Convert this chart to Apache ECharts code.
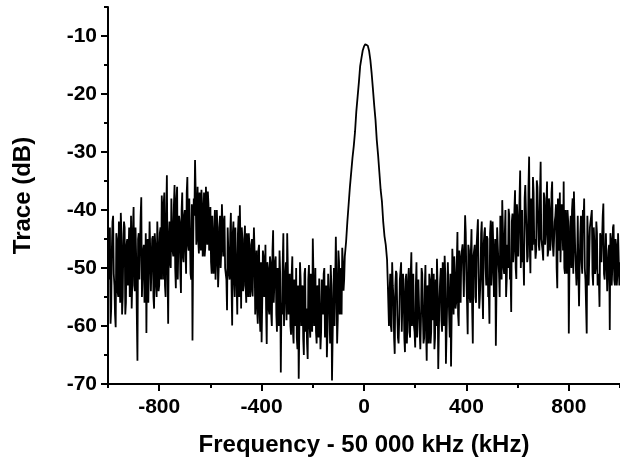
<!DOCTYPE html>
<html>
<head>
<meta charset="utf-8">
<script src="https://cdn.jsdelivr.net/npm/echarts@6/dist/echarts.min.js"></script>
<style>
html,body{margin:0;padding:0;background:#fff;}
#chart{width:620px;height:464px;}
</style>
</head>
<body>
<div id="chart"></div>
<script>
// Frequency grid (kHz offset from 50 000 kHz) of the main samples
const freqStart = -1000;
const freqStep = 5;

// Trace values (dB), one value per 5 kHz from -1000 kHz to 1000 kHz
const traceDb = [
  // -1000 .. -955
  -44, -52, -59.6, -47, -41, -53, -60.2, -45, -55, -42,
  // -950 .. -905
  -40.5, -58, -46, -43, -56, -45, -53, -55, -41, -52,
  // -900 .. -855
  -39.5, -54, -48, -66, -44, -52, -37.8, -55, -46, -53,
  // -850 .. -805
  -61.2, -45, -56, -47, -54, -44.5, -57, -46, -55, -45.5,
  // -800 .. -755
  -53, -43, -37.5, -52, -37, -55, -34, -59.6, -42, -50,
  // -750 .. -705
  -38, -48, -35.7, -53.5, -36, -46, -42, -54.3, -37, -49,
  // -700 .. -655
  -40, -51, -34.3, -47, -44, -52, -62.5, -38, -31.4, -46,
  // -650 .. -605
  -36, -47.5, -39, -36.5, -48, -37, -46.5, -40, -36.8, -47,
  // -600 .. -555
  -39.5, -51, -41, -44, -52, -40, -53.3, -43, -50, -39,
  // -550 .. -505
  -48, -41, -51, -57.3, -43, -52, -40.5, -59.9, -42, -55,
  // -500 .. -455
  -43, -58, -41, -39.2, -57, -45, -53, -42.7, -56, -47,
  // -450 .. -405
  -44, -55, -46, -54.9, -43, -58, -47, -59.6, -46, -61,
  // -400 .. -355
  -62.8, -47, -55, -46, -63.1, -50, -58, -49, -60, -43.5,
  // -350 .. -305
  -56, -48, -61, -52, -47, -68, -58, -44, -60, -49,
  // -300 .. -255
  -44, -58, -51, -61.5, -48, -63, -52, -50, -64, -69.1,
  // -250 .. -205
  -49, -60, -53, -65, -50, -57, -65.7, -49.5, -62, -51,
  // -200 .. -155
  -44.9, -60, -50, -63, -55, -51.8, -64, -52, -58, -50,
  // -150 .. -105
  -62, -65.4, -51, -57, -49.5, -69.4, -55, -60, -44.6, -63,
  // -100 .. -55
  -47, -58, -50, -46.5, -53.9, -48, -45.5, -42, -39, -36,
  // -50 .. -5
  -33.5, -31, -29, -26.5, -23, -20.5, -18, -15.2, -13.8, -12.5,
  // 0 .. 45
  -11.8, -11.4, -11.3, -11.7, -12.6, -14.2, -16.5, -19.2, -22, -24.5,
  // 50 .. 95
  -28, -30.5, -33.5, -36.5, -38.5, -42, -44.5, -46, -48.5, -52,
  // 100 .. 145
  -54, -60, -49, -55, -64.8, -50.5, -58, -63, -52, -49,
  // 150 .. 195
  -61, -54, -64.5, -51, -59, -50, -62, -47.3, -56, -60,
  // 200 .. 245
  -63.7, -49, -57, -52, -64, -50, -58, -62, -49.5, -66,
  // 250 .. 295
  -55, -51, -63, -50, -59, -64, -52, -48.4, -67.4, -55,
  // 300 .. 345
  -50, -61, -53, -47.9, -66.5, -56, -49, -62, -67, -46.7,
  // 350 .. 395
  -58, -51, -56, -43.8, -60, -52, -48, -45.9, -55, -40.9,
  // 400 .. 445
  -52, -61.4, -47, -56, -43.3, -63, -48, -55, -46, -41.6,
  // 450 .. 495
  -57, -52, -42, -58.8, -44, -50, -44.5, -55, -59.6, -41.8,
  // 500 .. 545
  -50, -46, -55, -63.4, -43, -49, -55, -41, -38.3, -50,
  // 550 .. 595
  -44, -55, -46, -39.8, -52, -57.6, -40.6, -47, -36.6, -51.9,
  // 600 .. 645
  -42, -48, -33.2, -45, -49, -53, -35.7, -44, -48, -30.8,
  // 650 .. 695
  -50.9, -38, -34.3, -46, -48.4, -34.9, -41, -47, -31.7, -45,
  // 700 .. 745
  -48.7, -38, -44, -35.1, -47, -40, -45, -35.1, -48, -42,
  // 750 .. 795
  -39, -53.5, -44, -37, -49, -42, -35.1, -51, -45, -40,
  // 800 .. 845
  -61.3, -43, -50, -38, -36.8, -47, -53, -41, -56.6, -44,
  // 850 .. 895
  -49, -40, -38, -52, -61.3, -45, -48, -42, -40, -53,
  // 900 .. 945
  -46, -50, -44, -51, -56.7, -45, -49, -38.9, -52, -44,
  // 950 .. 1000
  -54, -47, -60.7, -45, -50, -42.5, -53, -46, -51, -44, -49
];

// Extra noise samples (dB) half-way between main samples, left noise floor: -997.5 .. -77.5 kHz
const midLeftStart = -997.5;
const midLeftDb = [
  -52, -43, -57, -42, -51, -58, -44, -54, -42, -56,
  -44, -55, -42, -58, -46, -53, -43, -52, -57, -43,
  -53, -43, -58, -45, -52, -41, -55, -47, -56, -44,
  -47, -56, -42, -54, -45, -55, -44, -53, -42, -54,
  -44, -52, -41, -39, -53, -41, -50, -45, -49, -38,
  -47, -39, -50, -38, -52, -41, -51, -40, -48, -41,
  -47, -37, -46, -38, -51, -39, -47, -41, -37, -44,
  -45, -37, -47, -39, -45, -48, -36, -46, -39, -45,
  -49, -41, -51, -40, -49, -43, -50, -41, -47, -43,
  -42, -50, -52, -43, -51, -44, -53, -44, -52, -43,
  -53, -44, -55, -46, -43, -54, -45, -53, -44, -55,
  -46, -54, -45, -55, -47, -52, -57, -47, -58, -49,
  -56, -48, -54, -57, -49, -57, -48, -58, -47, -56,
  -49, -58, -50, -60, -51, -56, -49, -60, -51, -59,
  -50, -57, -60, -51, -61, -52, -60, -62, -53, -60,
  -52, -60, -62, -51, -61, -63, -52, -60, -51, -61,
  -51, -59, -61, -53, -62, -52, -61, -52, -51, -62,
  -53, -61, -51, -63, -53, -62, -50, -60, -52, -59,
  -49, -57, -58, -49, -52
];

// Extra noise samples (dB) half-way between main samples, right noise floor: 92.5 .. 997.5 kHz
const midRightStart = 92.5;
const midRightDb = [
  -52, -60, -51, -61, -53, -62, -53, -51, -62, -59,
  -52, -61, -51, -62, -52, -63, -52, -61, -51, -60,
  -51, -61, -53, -62, -52, -61, -59, -51, -63, -53,
  -61, -53, -63, -52, -61, -54, -51, -62, -60, -53,
  -61, -52, -59, -49, -60, -51, -61, -49, -58, -51,
  -58, -50, -48, -57, -49, -58, -47, -56, -48, -46,
  -47, -44, -56, -46, -55, -47, -57, -48, -46, -56,
  -46, -51, -55, -44, -54, -46, -43, -53, -45, -54,
  -44, -53, -42, -55, -45, -54, -43, -51, -41, -52,
  -43, -51, -40, -52, -50, -41, -51, -42, -49, -40,
  -50, -39, -48, -38, -50, -40, -48, -38, -40, -49,
  -36, -46, -38, -47, -37, -45, -47, -36, -46, -37,
  -45, -47, -37, -46, -39, -48, -38, -47, -37, -46,
  -48, -41, -50, -38, -47, -49, -39, -47, -50, -40,
  -51, -42, -50, -41, -40, -51, -42, -50, -49, -51,
  -49, -41, -51, -42, -50, -52, -41, -53, -43, -42,
  -51, -43, -51, -42, -53, -52, -44, -49, -41, -51,
  -52, -44, -54, -46, -44, -53, -43, -52, -45, -53,
  -44, -53
];

// Axis tick values
const xMajorTicks = [-800, -400, 0, 400, 800];
const xMinorTicks = [-1000, -600, -200, 200, 600, 1000];
const yMajorTicks = [-70, -60, -50, -40, -30, -20, -10];
const yMinorTicks = [-65, -55, -45, -35, -25, -15, -5];

// Merge main and half-step samples in frequency order
const seriesData = [];
traceDb.forEach((v, i) => {
  const f = freqStart + i * freqStep;
  seriesData.push([f, v]);
  const fm = f + freqStep / 2;
  const li = Math.round((fm - midLeftStart) / freqStep);
  const ri = Math.round((fm - midRightStart) / freqStep);
  if (li >= 0 && li < midLeftDb.length) seriesData.push([fm, midLeftDb[li]]);
  else if (ri >= 0 && ri < midRightDb.length) seriesData.push([fm, midRightDb[ri]]);
});

const FONT = '"Liberation Sans", Arial, sans-serif';
const lineStyle = { color: '#000', width: 2 };

const chart = echarts.init(document.getElementById('chart'));
chart.setOption({
  animation: false,
  backgroundColor: '#fff',
  grid: { left: 108, right: -5, top: 7, bottom: 80, containLabel: false },
  xAxis: [
    {
      type: 'value', min: -1000, max: 1000, position: 'bottom',
      axisLine: { show: true, onZero: false, lineStyle: lineStyle },
      axisTick: { show: true, inside: false, length: 7, lineStyle: lineStyle, customValues: xMajorTicks },
      axisLabel: { show: true, customValues: xMajorTicks, margin: 13, color: '#000', fontFamily: FONT, fontWeight: 'bold', fontSize: 21 },
      splitLine: { show: false },
      name: 'Frequency - 50 000 kHz (kHz)', nameLocation: 'middle', nameGap: 49,
      nameTextStyle: { color: '#000', fontFamily: FONT, fontWeight: 'bold', fontSize: 24 }
    },
    {
      type: 'value', min: -1000, max: 1000, position: 'bottom', offset: 0,
      axisLine: { show: false, onZero: false },
      axisTick: { show: true, inside: false, length: 4, lineStyle: lineStyle, customValues: xMinorTicks },
      axisLabel: { show: false },
      splitLine: { show: false }
    }
  ],
  yAxis: [
    {
      type: 'value', min: -70, max: -5, position: 'left',
      axisLine: { show: true, onZero: false, lineStyle: lineStyle },
      axisTick: { show: true, inside: false, length: 7, lineStyle: lineStyle, customValues: yMajorTicks },
      axisLabel: { show: true, customValues: yMajorTicks, margin: 11, color: '#000', fontFamily: FONT, fontWeight: 'bold', fontSize: 21 },
      splitLine: { show: false },
      name: 'Trace (dB)', nameLocation: 'middle', nameGap: 73, nameRotate: 90,
      nameTextStyle: { color: '#000', fontFamily: FONT, fontWeight: 'bold', fontSize: 24 }
    },
    {
      type: 'value', min: -70, max: -5, position: 'left', offset: 0,
      axisLine: { show: false, onZero: false },
      axisTick: { show: true, inside: false, length: 4, lineStyle: lineStyle, customValues: yMinorTicks },
      axisLabel: { show: false },
      splitLine: { show: false }
    }
  ],
  series: [{
    type: 'line',
    data: seriesData,
    xAxisIndex: 0, yAxisIndex: 0,
    showSymbol: false, symbol: 'none',
    smooth: false,
    sampling: null,
    lineStyle: { color: '#000', width: 1.8 },
    clip: true
  }]
});
</script>
</body>
</html>
